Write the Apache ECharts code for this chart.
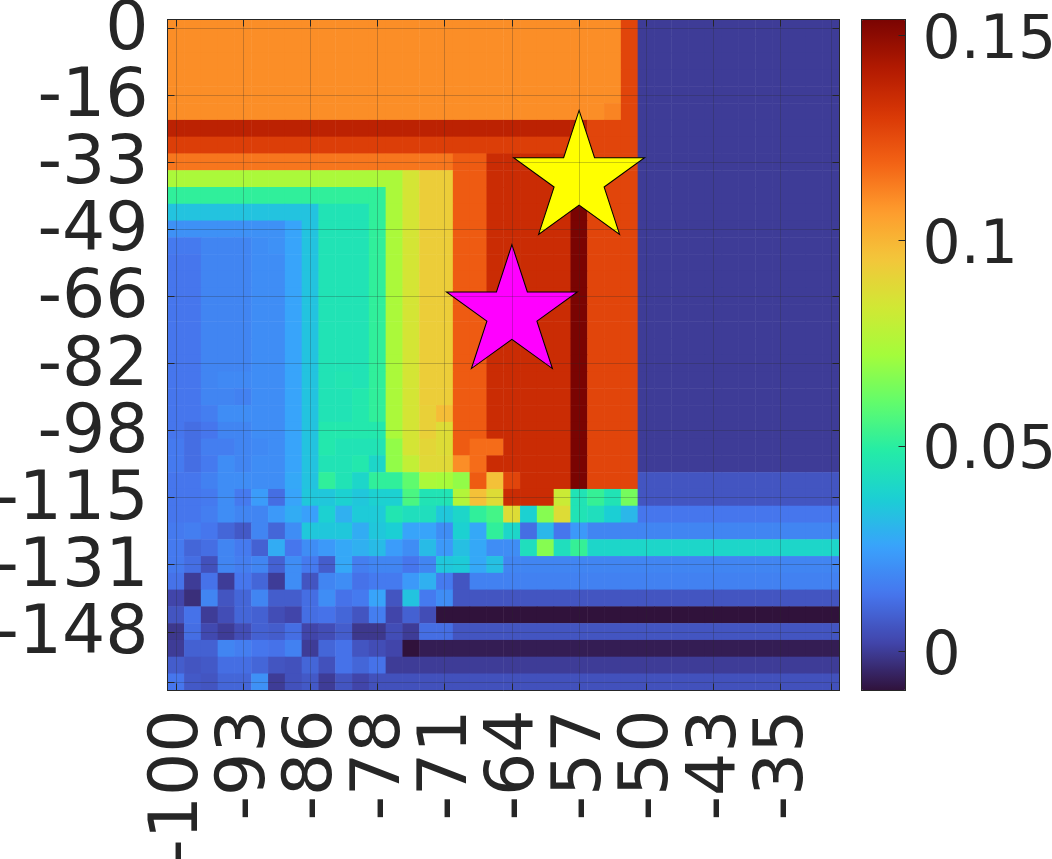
<!DOCTYPE html>
<html>
<head>
<meta charset="utf-8">
<script src="https://cdn.jsdelivr.net/npm/echarts@6/dist/echarts.min.js"></script>
<style>html,body{margin:0;padding:0;background:#fff}#c{width:1052px;height:859px}</style>
</head>
<body>
<div id="c"></div>
<script>
const xTickLabels = ['-100','-93','-86','-78','-71','-64','-57','-50','-43','-35'];
const yTickLabels = ['0','-16','-33','-49','-66','-82','-98','-115','-131','-148'];
const colorbarTicks = [0, 0.05, 0.1, 0.15];
const colorMin = -0.0096;
const colorMax = 0.1539;
const yellowStar = [24, 9];
const magentaStar = [20, 17];
const turbo = ['#30123b','#4145ab','#4675ed','#39a2fc','#1bcfd4','#24eca6','#61fc6c','#a4fc3b','#d1e834','#f3c63a','#fe9b2d','#f36315','#d93806','#b11901','#7a0402'];

// cell values, in thousandths, one list per row from the top
const row00 = [110,110,110,110,110,110,110,110,110,110, 110,110,110,110,110,110,110,110,110,110, 110,110,110,110,110,110,110,127,0,0, 0,0,0,0,0,0,0,0,0,0];
const row01 = [110,110,110,110,110,110,110,110,110,110, 110,110,110,110,110,110,110,110,110,110, 110,110,110,110,110,110,110,127,0,0, 0,0,0,0,0,0,0,0,0,0];
const row02 = [110,110,110,110,110,110,110,110,110,110, 110,110,110,110,110,110,110,110,110,110, 110,110,110,110,110,110,110,127,0,0, 0,0,0,0,0,0,0,0,0,0];
const row03 = [110,110,110,110,110,110,110,110,110,110, 110,110,110,110,110,110,110,110,110,110, 110,110,110,110,110,110,110,127,0,0, 0,0,0,0,0,0,0,0,0,0];
const row04 = [110,110,110,110,110,110,110,110,110,110, 110,110,110,110,110,110,110,110,110,110, 110,110,110,110,110,110,110,127,0,0, 0,0,0,0,0,0,0,0,0,0];
const row05 = [110,110,110,110,110,110,110,110,110,110, 110,110,110,110,110,110,110,110,110,110, 110,110,110,110,110,110,112,127,0,0, 0,0,0,0,0,0,0,0,0,0];
const row06 = [139,139,139,139,139,139,139,139,139,139, 139,139,139,139,139,139,139,139,139,139, 139,139,139,139,139,127,127,127,0,0, 0,0,0,0,0,0,0,0,0,0];
const row07 = [129,129,129,129,129,129,129,129,129,129, 129,129,129,129,129,129,129,129,129,129, 129,129,129,129,129,127,127,127,0,0, 0,0,0,0,0,0,0,0,0,0];
const row08 = [115,115,115,115,115,115,115,115,115,115, 115,115,115,115,115,115,115,121,121,135, 135,135,135,135,135,127,127,127,0,0, 0,0,0,0,0,0,0,0,0,0];
const row09 = [74,74,74,74,74,74,74,74,74,74, 74,74,74,74,85,93,93,121,121,135, 135,135,135,135,154,127,127,127,0,0, 0,0,0,0,0,0,0,0,0,0];
const row10 = [51,51,51,51,51,51,51,51,51,51, 51,51,51,74,85,93,93,121,121,135, 135,135,135,135,154,127,127,127,0,0, 0,0,0,0,0,0,0,0,0,0];
const row11 = [34,34,34,34,34,34,34,34,34,45, 45,45,51,74,85,93,93,121,121,135, 135,135,135,135,154,127,127,127,0,0, 0,0,0,0,0,0,0,0,0,0];
const row12 = [21,21,21,21,21,21,21,26,34,45, 45,45,51,74,85,93,93,121,121,135, 135,135,135,135,154,127,127,127,0,0, 0,0,0,0,0,0,0,0,0,0];
const row13 = [15,15,18,18,18,20,21,26,34,45, 45,45,51,74,85,93,93,121,121,135, 135,135,135,135,154,127,127,127,0,0, 0,0,0,0,0,0,0,0,0,0];
const row14 = [14,14,18,18,18,20,20,26,34,45, 45,45,51,74,85,93,93,121,121,135, 135,135,135,135,154,127,127,127,0,0, 0,0,0,0,0,0,0,0,0,0];
const row15 = [14,14,18,18,18,20,20,26,34,45, 45,45,51,74,85,93,93,121,121,135, 135,135,135,135,154,127,127,127,0,0, 0,0,0,0,0,0,0,0,0,0];
const row16 = [14,14,18,18,18,20,20,26,34,45, 45,45,51,74,85,93,93,121,121,135, 135,135,135,135,154,127,127,127,0,0, 0,0,0,0,0,0,0,0,0,0];
const row17 = [14,14,18,18,18,20,20,26,34,45, 45,45,51,74,85,93,93,121,121,135, 135,135,135,135,154,127,127,127,0,0, 0,0,0,0,0,0,0,0,0,0];
const row18 = [14,14,18,18,18,20,20,26,34,45, 45,45,51,74,85,93,93,121,121,135, 135,135,135,135,154,127,127,127,0,0, 0,0,0,0,0,0,0,0,0,0];
const row19 = [14,14,18,18,18,20,20,26,34,45, 45,45,51,74,85,93,93,121,121,135, 135,135,135,135,154,127,127,127,0,0, 0,0,0,0,0,0,0,0,0,0];
const row20 = [14,14,18,18,18,20,20,26,34,45, 45,45,51,74,85,93,93,121,121,135, 135,135,135,135,154,127,127,127,0,0, 0,0,0,0,0,0,0,0,0,0];
const row21 = [14,14,18,19,19,20,20,26,34,45, 46,45,51,74,85,93,93,121,121,135, 135,135,135,135,154,127,127,127,0,0, 0,0,0,0,0,0,0,0,0,0];
const row22 = [14,14,18,18,17,20,20,26,34,45, 45,47,51,74,85,93,93,121,121,135, 135,135,135,135,154,127,127,127,0,0, 0,0,0,0,0,0,0,0,0,0];
const row23 = [14,14,16,20,20,20,20,26,34,45, 45,47,51,74,85,92,98,121,121,135, 135,135,135,135,154,127,127,127,0,0, 0,0,0,0,0,0,0,0,0,0];
const row24 = [14,12,14,18,18,20,20,26,34,47, 47,47,47,74,85,92,88,121,121,135, 135,135,135,135,154,127,127,127,0,0, 0,0,0,0,0,0,0,0,0,0];
const row25 = [15,12,16,16,18,19,20,26,34,47, 45,45,45,69,85,90,88,121,117,117, 135,135,135,135,154,127,127,127,0,0, 0,0,0,0,0,0,0,0,0,0];
const row26 = [15,12,15,20,18,20,20,26,34,45, 45,47,40,69,80,89,89,110,117,135, 135,135,135,135,154,127,127,127,0,0, 0,0,0,0,0,0,0,0,0,0];
const row27 = [14,14,17,20,20,20,20,27,34,51, 45,40,51,51,60,74,73,69,121,97, 127,135,135,135,154,127,127,127,6,6, 6,6,6,6,6,6,6,6,6,6];
const row28 = [14,14,15,20,15,24,12,26,35,35, 38,35,38,38,56,45,45,76,97,88, 135,135,135,82,45,52,45,64,6,6, 6,6,6,6,6,6,6,6,6,6];
const row29 = [14,14,16,20,18,18,23,28,25,38, 29,36,36,46,43,43,35,40,51,55, 88,38,67,88,45,43,37,31,14,14, 14,14,14,14,14,14,14,14,14,14];
const row30 = [15,16,14,10,7,18,10,20,35,35, 35,28,35,37,26,26,20,38,27,51, 40,12,31,14,23,18,18,18,18,18, 18,18,18,18,18,18,18,18,18,18];
const row31 = [15,10,12,18,15,9,28,14,20,23, 27,29,32,24,20,32,23,33,27,20, 20,43,67,43,52,40,40,40,40,40, 40,40,40,40,40,40,40,40,40,40];
const row32 = [15,12,5,18,16,18,9,20,15,8, 27,16,18,18,14,18,35,36,27,33, 18,18,18,18,18,18,18,18,18,18, 18,18,18,18,18,18,18,18,18,18];
const row33 = [13,0,13,0,14,10,0,20,6,18, 20,13,15,15,23,29,15,6,17,17, 17,17,17,17,17,17,17,17,17,17, 17,17,17,17,17,17,17,17,17,17];
const row34 = [2,-3,18,6,10,18,8,8,12,20, 13,15,26,6,34,15,20,6,6,6, 6,6,6,6,6,6,6,6,6,6, 6,6,6,6,6,6,6,6,6,6];
const row35 = [6,13,0,4,10,9,4,2,12,13, 10,6,16,2,9,4,-10,-10,-10,-10, -10,-10,-10,-10,-10,-10,-10,-10,-10,-10, -10,-10,-10,-10,-10,-10,-10,-10,-10,-10];
const row36 = [-1,12,3,0,4,9,8,12,2,4, 8,-1,-1,4,0,12,12,6,6,6, 6,6,6,6,6,6,6,6,6,6, 6,6,6,6,6,6,6,6,6,6];
const row37 = [0,9,9,18,16,14,13,17,0,10, 13,6,4,2,-10,-7,-7,-7,-7,-7, -7,-7,-7,-7,-7,-7,-7,-7,-7,-7, -7,-7,-7,-7,-7,-7,-7,-7,-7,-7];
const row38 = [8,6,7,12,12,10,6,5,10,5, 13,10,13,0,0,0,0,0,0,0, 0,0,0,0,0,0,0,0,0,0, 0,0,0,0,0,0,0,0,0,0];
const row39 = [14,7,6,10,10,21,0,5,7,0, 6,2,5,5,5,5,5,5,5,5, 5,5,5,5,5,5,5,5,5,5, 5,5,5,5,5,5,5,5,5,5];

const allRows = [row00,row01,row02,row03,row04,row05,row06,row07,row08,row09,
  row10,row11,row12,row13,row14,row15,row16,row17,row18,row19,
  row20,row21,row22,row23,row24,row25,row26,row27,row28,row29,
  row30,row31,row32,row33,row34,row35,row36,row37,row38,row39];

const ink = '#262626';
const labelFont = 'DejaVu Sans';
const tickEvery = 4;
const xCategories = allRows[0].map((_, i) => i % tickEvery === 0 ? xTickLabels[i / tickEvery] : ' ' + i);
const yCategories = allRows.map((_, i) => i % tickEvery === 0 ? yTickLabels[i / tickEvery] : ' ' + i);
const cells = [];
allRows.forEach((row, r) => row.forEach((v, c) => cells.push([c, r, v / 1000])));

const starPath = 'path://M0,-100L22.45,-30.9L95.1,-30.9L36.3,11.8L58.8,80.9L0,38.2L-58.8,80.9L-36.3,11.8L-95.1,-30.9L-22.45,-30.9Z';
const gridBox = {left: 167.5, top: 19.5, width: 672, height: 671};
const barBox = {left: 861.5, top: 19.5, width: 44, height: 671};

function catAxis(extra) {
  return Object.assign({
    type: 'category',
    gridIndex: 0,
    z: 5,
    axisLine: {show: true, onZero: false, lineStyle: {color: ink, width: 1}},
    axisTick: {show: true, inside: true, length: 7, interval: tickEvery - 1, alignWithLabel: true, lineStyle: {color: ink, width: 1}},
    splitLine: {show: false},
    axisLabel: {show: false}
  }, extra);
}
const shownSplit = {show: true, interval: tickEvery - 1, alignWithLabel: true, lineStyle: {color: 'rgba(38,38,38,0.25)', width: 1}};
const shownLabel = {show: true, interval: 0, color: ink, fontFamily: labelFont, fontSize: 68, verticalAlign: 'top', lineHeight: 7, hideOverlap: false,
  formatter: (name) => name.charAt(0) === ' ' ? '' : name};

const option = {
  animation: false,
  backgroundColor: '#fff',
  grid: [
    Object.assign({show: false, containLabel: false, outerBoundsMode: 'none'}, gridBox),
    Object.assign({show: false, containLabel: false, outerBoundsMode: 'none'}, barBox)
  ],
  xAxis: [
    catAxis({position: 'bottom', data: xCategories, splitLine: shownSplit,
      axisLabel: Object.assign({}, shownLabel, {rotate: 90, margin: 19})}),
    catAxis({position: 'top', data: xCategories}),
    {type: 'value', gridIndex: 1, min: 0, max: 1, position: 'bottom', z: 5,
      axisLine: {show: true, onZero: false, lineStyle: {color: ink}}, axisTick: {show: false}, axisLabel: {show: false}, splitLine: {show: false}},
    {type: 'value', gridIndex: 1, min: 0, max: 1, position: 'top', z: 5,
      axisLine: {show: true, onZero: false, lineStyle: {color: ink}}, axisTick: {show: false}, axisLabel: {show: false}, splitLine: {show: false}}
  ],
  yAxis: [
    catAxis({position: 'left', inverse: true, data: yCategories, splitLine: shownSplit,
      axisLabel: Object.assign({}, shownLabel, {margin: 19})}),
    catAxis({position: 'right', inverse: true, data: yCategories}),
    {type: 'value', gridIndex: 1, min: colorMin, max: colorMax, position: 'right', z: 5,
      axisLine: {show: true, onZero: false, lineStyle: {color: ink}},
      axisTick: {show: true, inside: true, length: 7, customValues: colorbarTicks, lineStyle: {color: ink}},
      axisLabel: {show: true, customValues: colorbarTicks, margin: 17, color: ink, fontFamily: labelFont, fontSize: 60, verticalAlign: 'top', lineHeight: 14},
      splitLine: {show: false}},
    {type: 'value', gridIndex: 1, min: colorMin, max: colorMax, position: 'left', z: 5,
      axisLine: {show: true, onZero: false, lineStyle: {color: ink}}, axisTick: {show: false}, axisLabel: {show: false}, splitLine: {show: false}}
  ],
  visualMap: {
    type: 'continuous',
    seriesIndex: 0,
    min: colorMin,
    max: colorMax,
    calculable: false,
    realtime: false,
    hoverLink: false,
    padding: 0,
    left: barBox.left,
    top: barBox.top,
    itemWidth: barBox.width,
    itemHeight: barBox.height,
    text: ['', ''],
    showLabel: false,
    inRange: {color: turbo}
  },
  series: [
    {type: 'heatmap', xAxisIndex: 0, yAxisIndex: 0, data: cells, z: 2, progressive: 0, emphasis: {disabled: true}},
    {type: 'scatter', xAxisIndex: 0, yAxisIndex: 0, z: 3, silent: true, symbol: starPath, symbolSize: [131, 124], symbolOffset: [0, -6.5],
      data: [{value: yellowStar, itemStyle: {color: '#ffff00', borderColor: '#000', borderWidth: 1, opacity: 1}},
             {value: magentaStar, itemStyle: {color: '#ff00ff', borderColor: '#000', borderWidth: 1, opacity: 1}}]},
    {type: 'scatter', xAxisIndex: 2, yAxisIndex: 2, data: [], silent: true}
  ]
};
echarts.init(document.getElementById('c'), null, {renderer: 'canvas'}).setOption(option);
</script>
</body>
</html>
